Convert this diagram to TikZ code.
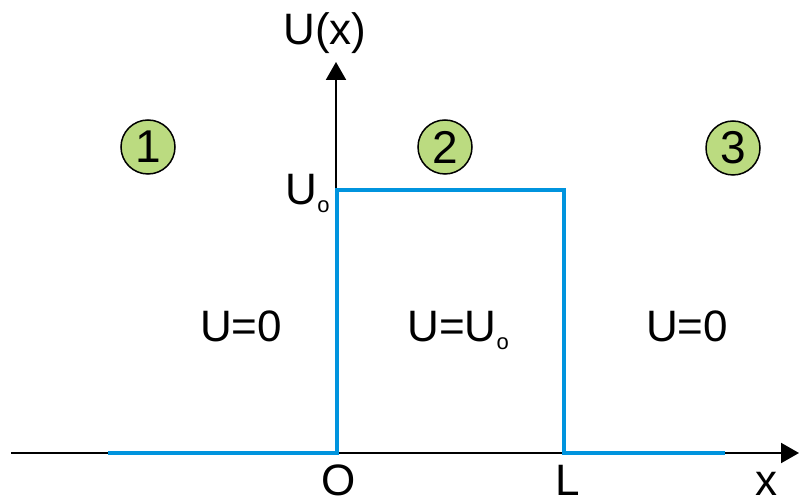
\documentclass[tikz,border=0pt]{standalone}
\usepackage{fontspec}
\setmainfont{Liberation Sans}
\usepackage{xcolor}
\usetikzlibrary{arrows.meta,positioning}
\definecolor{wellblue}{RGB}{0,148,222}
\definecolor{zonegreen}{RGB}{187,219,128}
\newcommand{\subo}{\lower4pt\hbox{\fontsize{11}{11}\selectfont o}}
\tikzset{
  axisline/.style={line width=1pt, black, -{Triangle[length=9pt,width=10pt]}},
  wellline/.style={line width=2pt, wellblue},
  zonelabel/.style={circle, draw=black, line width=0.75pt, fill=zonegreen, minimum size=27pt, inner sep=0pt, font=\fontsize{23}{27}\selectfont},
  plainlabel/.style={anchor=base, inner sep=0pt, font=\fontsize{22}{26}\selectfont}
}
\begin{document}
\begin{tikzpicture}[x=0.5pt, y=0.5pt]
\useasboundingbox (0,0) rectangle (799,504);
% axes
\coordinate (xstart) at (11,51);
\coordinate (xend) at (799,51);
\coordinate (origin) at (336,51);
\coordinate (yend) at (336,442);
\draw[axisline] (xstart) -- (xend);
\draw[axisline] (origin) -- (yend);
% potential barrier
\coordinate (wellA) at (108,51);
\coordinate (wellB) at (337,51);
\coordinate (wellC) at (337,314);
\coordinate (wellD) at (564,314);
\coordinate (wellE) at (564,51);
\coordinate (wellF) at (725,51);
\draw[wellline] (wellA) -- (wellB) -- (wellC) -- (wellD) -- (wellE) -- (wellF);
% labels
\node[plainlabel] (ulabel) at (325,459) {U(x)};
\node[plainlabel, anchor=base east] (uzero) at (330,299) {U\subo};
\node[plainlabel] (olabel) at (339,9) {O};
\node[plainlabel] (llabel) at (568,9) {L};
\node[plainlabel] (xlabel) at (766,9) {x};
\node[plainlabel] (regA) at (241,162) {U=0};
\node[plainlabel] (regB) at (458,162) {U=U\subo};
\node[plainlabel] (regC) at (687,162) {U=0};
% region numbers
\node[zonelabel] (zoneA) at (148,357) {1};
\node[zonelabel] (zoneB) at (445,357) {2};
\node[zonelabel] (zoneC) at (733,356) {3};
\end{tikzpicture}
\end{document}
